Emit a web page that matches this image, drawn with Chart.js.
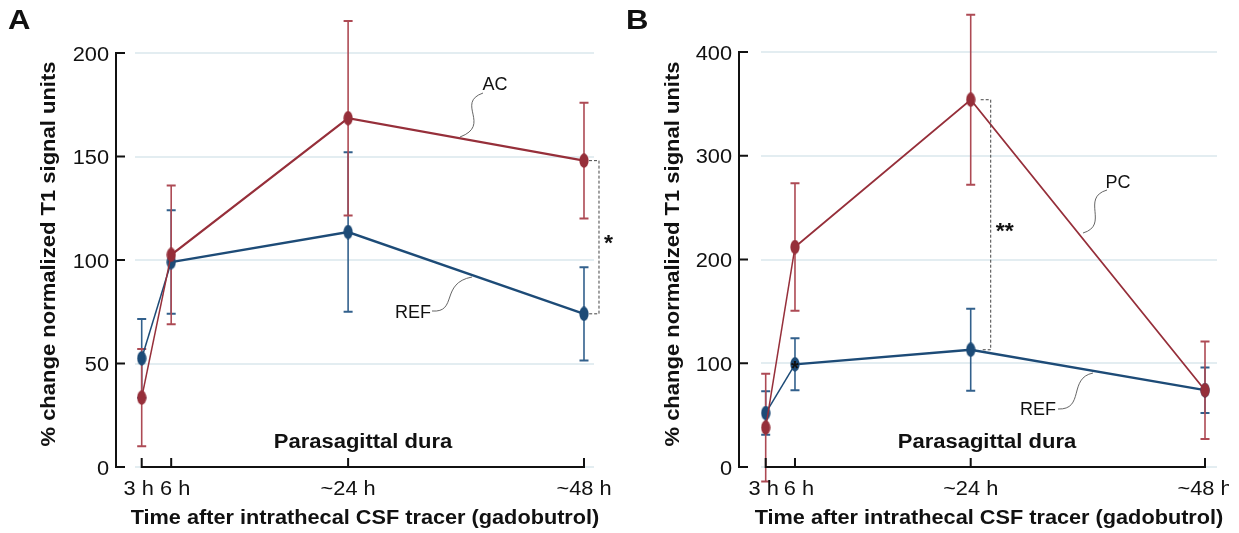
<!DOCTYPE html>
<html>
<head>
<meta charset="utf-8">
<script src="https://cdn.jsdelivr.net/npm/chart.js@4.4.1/dist/chart.umd.min.js"></script>
<style>
    html, body { margin: 0; padding: 0; background: #ffffff; }
    body { width: 1239px; height: 533px; position: relative; overflow: hidden; }
    canvas { position: absolute; top: 0; }
    #chartA { left: 0; }
    #chartB { left: 620px; }
</style>
</head>
<body>
<canvas id="chartA" width="620" height="533"></canvas>
<canvas id="chartB" width="609" height="533"></canvas>
<script>
(() => {
    // time points (hours after tracer) and their tick labels
    const hours = [3, 6, 24, 48];
    const xTickLabels = ["3 h", "6 h", "~24 h", "~48 h"];

    // panel A: reference vs. AC
    const refA = [52.5, 99, 113.5, 74];
    const refAErr = [19, 25, 38.5, 22.5];
    const acA = [33.5, 102.5, 168.5, 148];
    const acAErr = [23.5, 33.5, 47, 28];
    const yTicksA = [0, 50, 100, 150, 200];

    // panel B: reference vs. PC
    const refB = [52, 99, 113, 74];
    const refBErr = [21, 25, 39.5, 22];
    const pcB = [38, 212, 354, 74];
    const pcBErr = [52, 61.5, 82, 47];
    const yTicksB = [0, 100, 200, 300, 400];

    const FONT = '"Liberation Sans", Arial, sans-serif';
    const RED = "#962f3a";
    const RED_ERR = "#ad4a54";
    const BLUE = "#1d4b77";
    const BLUE_ERR = "#32608c";
    const GRID = "#e3edf1";
    const STRETCH = 1.09;

    const ellipseMarker = (color) => {
        const c = document.createElement("canvas");
        c.width = 10;
        c.height = 15;
        const g = c.getContext("2d");
        g.fillStyle = color;
        g.beginPath();
        g.ellipse(5, 7.5, 4.6, 7.2, 0, 0, Math.PI * 2);
        g.fill();
        return c;
    };

    const text = (ctx, str, x, y, font, align, sx, rotate) => {
        ctx.save();
        ctx.translate(x, y);
        if (rotate) {
            ctx.rotate(-Math.PI / 2);
        }
        ctx.scale(sx, 1);
        ctx.font = font;
        ctx.fillStyle = "#111111";
        ctx.textAlign = align;
        ctx.textBaseline = "alphabetic";
        ctx.fillText(str, 0, 0);
        ctx.restore();
    };

    const decorPlugin = {
        id: "decor",
        beforeDatasetsDraw(chart, args, opts) {
            const ctx = chart.ctx;
            const xs = chart.scales.x;
            const ys = chart.scales.y;
            const area = chart.chartArea;

            // light horizontal grid
            ctx.save();
            ctx.strokeStyle = GRID;
            ctx.lineWidth = 2;
            opts.yTicks.forEach((t) => {
                const y = Math.round(ys.getPixelForValue(t));
                ctx.beginPath();
                ctx.moveTo(area.left, y);
                ctx.lineTo(area.right, y);
                ctx.stroke();
            });

            // error bars
            opts.series.forEach((s) => {
                ctx.strokeStyle = s.errColor;
                hours.forEach((h, i) => {
                    const x = xs.getPixelForValue(h);
                    const yTop = ys.getPixelForValue(s.values[i] + s.err[i]);
                    const yBot = ys.getPixelForValue(s.values[i] - s.err[i]);
                    ctx.lineWidth = 1.6;
                    ctx.beginPath();
                    ctx.moveTo(x, yTop);
                    ctx.lineTo(x, yBot);
                    ctx.stroke();
                    ctx.lineWidth = 2;
                    ctx.beginPath();
                    ctx.moveTo(x - 4.5, yTop);
                    ctx.lineTo(x + 4.5, yTop);
                    ctx.moveTo(x - 4.5, yBot);
                    ctx.lineTo(x + 4.5, yBot);
                    ctx.stroke();
                });
            });
            ctx.restore();
        },
        afterDatasetsDraw(chart, args, opts) {
            const ctx = chart.ctx;
            const xs = chart.scales.x;
            const ys = chart.scales.y;
            const axisX = chart.chartArea.left - opts.axisGap;
            const y0 = ys.getPixelForValue(0);
            const yTop = ys.getPixelForValue(opts.yTicks[opts.yTicks.length - 1]);

            ctx.save();
            ctx.strokeStyle = "#111111";
            ctx.lineWidth = 2;

            // y axis with inward ticks
            ctx.beginPath();
            ctx.moveTo(axisX, yTop - 1);
            ctx.lineTo(axisX, y0 + 1);
            opts.yTicks.forEach((t) => {
                const y = ys.getPixelForValue(t);
                ctx.moveTo(axisX, y);
                ctx.lineTo(axisX + 9, y);
            });
            ctx.stroke();
            opts.yTicks.forEach((t) => {
                text(ctx, String(t), axisX - 7, ys.getPixelForValue(t) + 7.5, "20px " + FONT, "right", STRETCH);
            });

            // x axis spanning first to last time point, ticks pointing up
            const xFirst = xs.getPixelForValue(hours[0]);
            const xLast = xs.getPixelForValue(hours[hours.length - 1]);
            ctx.beginPath();
            ctx.moveTo(xFirst - 1, y0);
            ctx.lineTo(xLast + 1, y0);
            hours.forEach((h) => {
                const x = xs.getPixelForValue(h);
                ctx.moveTo(x, y0);
                ctx.lineTo(x, y0 - 9);
            });
            ctx.stroke();
            hours.forEach((h, i) => {
                text(ctx, xTickLabels[i], xs.getPixelForValue(h) + opts.labelShift[i], 495,
                    "20px " + FONT, "center", STRETCH);
            });

            // titles
            text(ctx, "Time after intrathecal CSF tracer (gadobutrol)", opts.titleX, 524,
                "bold 20px " + FONT, "center", 1.085);
            text(ctx, "% change normalized T1 signal units", opts.yTitleX, 254,
                "bold 20px " + FONT, "center", 1.1, true);
            text(ctx, "Parasagittal dura", opts.titleX - 2, 448, "bold 20px " + FONT, "center", 1.1);
            text(ctx, opts.letter, opts.letterX, 29, "bold 27px " + FONT, "left", 1.15);

            // significance bracket
            const b = opts.bracket;
            const bx = xs.getPixelForValue(hours[b.index]) + b.dx;
            const bTop = ys.getPixelForValue(b.hi[b.index]);
            const bBot = ys.getPixelForValue(b.lo[b.index]);
            ctx.strokeStyle = "#444444";
            ctx.lineWidth = 1;
            ctx.setLineDash([3, 2]);
            ctx.beginPath();
            ctx.moveTo(bx - 10, bTop);
            ctx.lineTo(bx, bTop);
            ctx.lineTo(bx, bBot);
            ctx.lineTo(bx - 10, bBot);
            ctx.stroke();
            ctx.setLineDash([]);
            text(ctx, b.label, bx + 5, (bTop + bBot) / 2 + 13, "bold 22px " + FONT, "left", 1.05);

            if (opts.star) {
                const sx = xs.getPixelForValue(hours[opts.star.index]);
                const sy = ys.getPixelForValue(opts.star.values[opts.star.index]);
                text(ctx, "*", sx, sy + 11, "bold 20px " + FONT, "center", 1);
            }

            // series labels with wavy leaders
            ctx.strokeStyle = "#555555";
            ctx.lineWidth = 0.9;
            opts.leaders.forEach((l) => {
                ctx.beginPath();
                ctx.moveTo(l[0], l[1]);
                ctx.bezierCurveTo(l[2], l[3], l[4], l[5], l[6], l[7]);
                ctx.stroke();
            });
            opts.labels.forEach((l) => {
                text(ctx, l.text, l.x, l.y, "18px " + FONT, "center", 1.0);
            });
            ctx.restore();
        }
    };

    const buildPanel = (canvasId, panel) => {
        const canvas = document.getElementById(canvasId);
        const datasets = panel.series.map((s) => ({
            data: hours.map((h, i) => ({ x: h, y: s.values[i] })),
            borderColor: s.color,
            backgroundColor: s.color,
            borderWidth: s.width,
            segment: {
                borderWidth: (ctx) => (ctx.p0DataIndex === 0 ? 1.5 : s.width)
            },
            pointStyle: ellipseMarker(s.color),
            pointRadius: 7,
            tension: 0,
            fill: false,
            clip: false
        }));

        new Chart(canvas, {
            type: "line",
            data: { datasets: datasets.reverse() },
            plugins: [decorPlugin],
            options: {
                responsive: false,
                animation: false,
                layout: { padding: panel.padding },
                plugins: {
                    legend: { display: false },
                    tooltip: { enabled: false },
                    decor: panel
                },
                scales: {
                    x: { type: "linear", display: false, min: panel.xMin, max: panel.xMax },
                    y: { type: "linear", display: false, min: 0, max: panel.yTicks[panel.yTicks.length - 1] }
                }
            }
        });
    };

    buildPanel("chartA", {
        letter: "A",
        letterX: 8,
        yTicks: yTicksA,
        xMin: 2.318,
        xMax: 49.018,
        padding: { left: 135, right: 26, top: 53, bottom: 66 },
        axisGap: 19,
        titleX: 365,
        yTitleX: 55,
        labelShift: [-3, 4, 0, 0],
        series: [
            { values: refA, err: refAErr, color: BLUE, errColor: BLUE_ERR, width: 2.3 },
            { values: acA, err: acAErr, color: RED, errColor: RED_ERR, width: 2.3 }
        ],
        bracket: { index: 3, hi: acA, lo: refA, dx: 15, label: "*" },
        leaders: [
            [483, 93, 455, 103, 492, 125, 460, 137],
            [432, 311, 458, 313, 440, 283, 472, 277]
        ],
        labels: [
            { text: "AC", x: 495, y: 90 },
            { text: "REF", x: 413, y: 318 }
        ]
    });

    buildPanel("chartB", {
        letter: "B",
        letterX: 6,
        yTicks: yTicksB,
        xMin: 2.519,
        xMax: 49.229,
        padding: { left: 141, right: 12, top: 52, bottom: 66 },
        axisGap: 22,
        titleX: 369,
        yTitleX: 59,
        labelShift: [-2, 4, 0, 0],
        series: [
            { values: refB, err: refBErr, color: BLUE, errColor: BLUE_ERR, width: 2.3 },
            { values: pcB, err: pcBErr, color: RED, errColor: RED_ERR, width: 1.8 }
        ],
        bracket: { index: 2, hi: pcB, lo: refB, dx: 20, label: "**" },
        star: { index: 1, values: refB },
        leaders: [
            [487, 190, 460, 198, 490, 225, 463, 233],
            [438, 409, 465, 410, 448, 378, 473, 373]
        ],
        labels: [
            { text: "PC", x: 498, y: 188 },
            { text: "REF", x: 418, y: 415 }
        ]
    });
})();
</script>
</body>
</html>
